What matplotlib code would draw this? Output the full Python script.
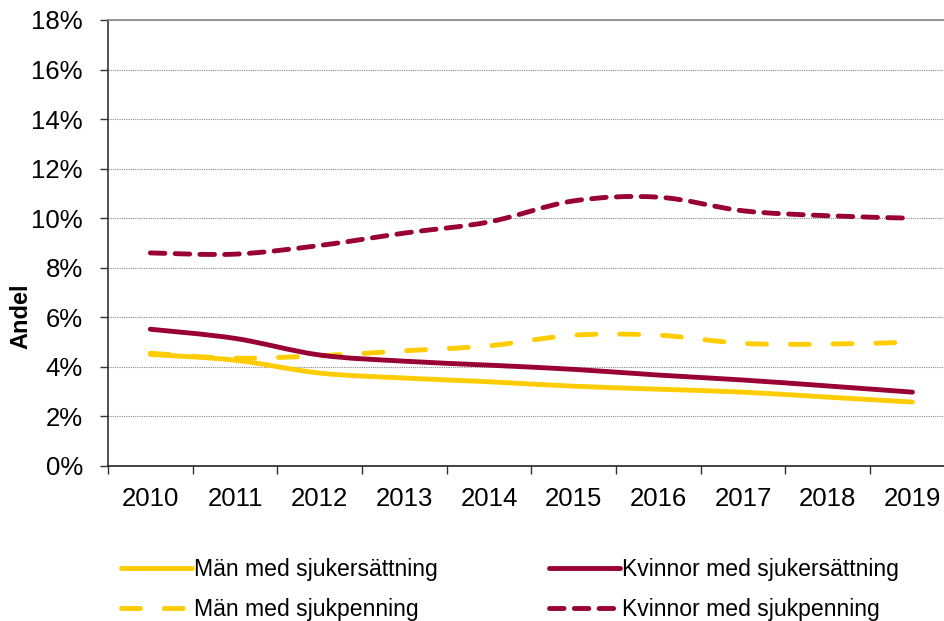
import matplotlib
matplotlib.use("Agg")
import matplotlib.pyplot as plt
from matplotlib.path import Path
from matplotlib.patches import PathPatch
from matplotlib.lines import Line2D
from matplotlib.ticker import FixedLocator, PercentFormatter

plt.rcParams['font.family'] = ['Liberation Sans', 'DejaVu Sans']

years = ['2010', '2011', '2012', '2013', '2014', '2015', '2016', '2017', '2018', '2019']
man_sjukersattning = [4.50, 4.27, 3.75, 3.55, 3.40, 3.22, 3.10, 2.98, 2.78, 2.58]
kvinnor_sjukersattning = [5.52, 5.15, 4.48, 4.23, 4.07, 3.90, 3.67, 3.47, 3.23, 2.98]
man_sjukpenning = [4.55, 4.35, 4.45, 4.65, 4.85, 5.28, 5.28, 4.95, 4.92, 5.00]
kvinnor_sjukpenning = [8.60, 8.55, 8.90, 9.40, 9.85, 10.70, 10.85, 10.30, 10.10, 10.00]

YELLOW = '#FFCC00'
MAROON = '#990033'


def smooth_path(xs, ys):
    # Excel-like smoothed line as cubic bezier through the points
    pts = list(zip(xs, ys))
    n = len(pts)
    verts = [pts[0]]
    codes = [Path.MOVETO]
    for i in range(n - 1):
        p0 = pts[max(i - 1, 0)]
        p1 = pts[i]
        p2 = pts[i + 1]
        p3 = pts[min(i + 2, n - 1)]
        c1 = (p1[0] + (p2[0] - p0[0]) / 6, p1[1] + (p2[1] - p0[1]) / 6)
        c2 = (p2[0] - (p3[0] - p1[0]) / 6, p2[1] - (p3[1] - p1[1]) / 6)
        verts += [c1, c2, p2]
        codes += [Path.CURVE4] * 3
    return Path(verts, codes)


fig = plt.figure(figsize=(9.44, 6.21), dpi=100)
ax = fig.add_axes([0.1144, 0.2496, 0.897, 0.7182])

x = list(range(len(years)))
series = [
    (man_sjukersattning, YELLOW, '-', 'Män med sjukersättning'),
    (man_sjukpenning, YELLOW, (0, (3.9, 4.9)), 'Män med sjukpenning'),
    (kvinnor_sjukersattning, MAROON, '-', 'Kvinnor med sjukersättning'),
    (kvinnor_sjukpenning, MAROON, (0, (3.0, 2.1)), 'Kvinnor med sjukpenning'),
]
handles = []
for vals, col, ls, lab in series:
    patch = PathPatch(smooth_path(x, vals), fill=False, edgecolor=col,
                      linewidth=3.5, linestyle=ls, capstyle='round', zorder=3)
    ax.add_patch(patch)
    handles.append(Line2D([], [], color=col, lw=3.5, linestyle=ls,
                          dash_capstyle='round', solid_capstyle='round', label=lab))

ax.set_xlim(-0.5, 9.5)
ax.set_ylim(0, 18)
ax.yaxis.set_major_locator(FixedLocator(range(0, 19, 2)))
ax.yaxis.set_major_formatter(PercentFormatter(decimals=0))
ax.grid(axis='y', color='#888888', linestyle=(0, (1, 1)), linewidth=0.8)
ax.set_axisbelow(True)

ax.xaxis.set_major_locator(FixedLocator([i - 0.5 for i in range(11)]))
ax.xaxis.set_major_formatter(plt.NullFormatter())
ax.xaxis.set_minor_locator(FixedLocator(x))
ax.set_xticklabels(years, minor=True)
ax.tick_params(axis='x', which='major', length=6, width=1, color='#333333', direction='out')
ax.tick_params(axis='x', which='minor', length=0, pad=15, labelsize=18.5)
ax.tick_params(axis='y', length=6, width=1, color='#333333', pad=12, labelsize=18.5)

ax.spines['right'].set_visible(False)
ax.spines['top'].set_color('#888888')
ax.spines['top'].set_linewidth(1.2)
ax.spines['left'].set_color('#333333')
ax.spines['bottom'].set_color('#222222')
ax.spines['left'].set_linewidth(1.2)
ax.spines['bottom'].set_linewidth(1.2)

ax.set_ylabel('Andel', fontsize=17, fontweight='bold')
ax.yaxis.set_label_coords(-0.0897, 0.336)

fig.legend(handles=handles, ncol=2, loc='upper left', bbox_to_anchor=(0.118, 0.116),
           frameon=False, fontsize=16.6, handlelength=3.1, handletextpad=0.09,
           columnspacing=4.8, labelspacing=0.75, borderaxespad=0)

fig.savefig('out.png', dpi=100)
